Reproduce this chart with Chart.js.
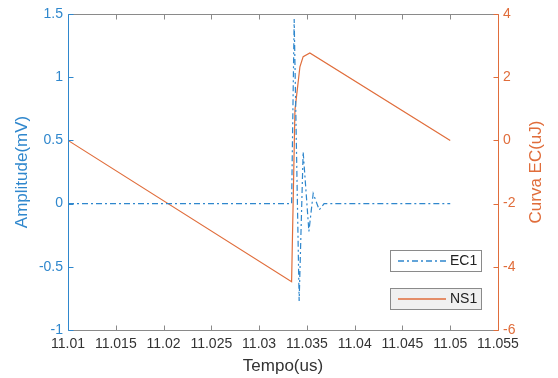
<!DOCTYPE html>
<html>
<head>
<meta charset="utf-8">
<script src="https://cdn.jsdelivr.net/npm/chart.js@4.4.1/dist/chart.umd.min.js"></script>
<style>
  html, body { margin: 0; padding: 0; background: #fff; }
  #wrap { width: 558px; height: 378px; }
</style>
</head>
<body>
<div id="wrap"><canvas id="chart" width="558" height="378"></canvas></div>
<script>
// EC1 - amplitude (mV)
const ec1Time = [11.01, 11.0334, 11.03367, 11.03419, 11.03461, 11.03521, 11.03566, 11.03629, 11.0368, 11.05]
const ec1Amp = [0, 0, 1.46, -0.77, 0.41, -0.22, 0.08, -0.05, 0, 0]

// NS1 - curva EC (uJ)
const ns1Time = [11.01, 11.0334, 11.03375, 11.03427, 11.03461, 11.03531, 11.05]
const ns1Energy = [0, -4.47, 0.96, 2.33, 2.65, 2.77, 0]

const xTicks = [11.01, 11.015, 11.02, 11.025, 11.03, 11.035, 11.04, 11.045, 11.05, 11.055]
const yLeftTicks = [-1, -0.5, 0, 0.5, 1, 1.5]
const yRightTicks = [-6, -4, -2, 0, 2, 4]

const blue = '#2f87cd'
const orange = '#e06d3b'
const gray = '#8a8a8a'
const txt = '#333333'
const fontName = "'Liberation Sans', Arial, sans-serif"

const pts = (xs, ys) => xs.map((x, i) => ({ x: x, y: ys[i] }))

// frame, inward ticks, titles, legend boxes (matlab look)
const frame = {
  id: 'frame',
  afterDraw(chart) {
    const ctx = chart.ctx
    const a = chart.chartArea
    const sx = chart.scales.x, sl = chart.scales.y, sr = chart.scales.y1
    const L = Math.round(a.left) + 0.5, R = Math.round(a.right) + 0.5
    const T = Math.round(a.top) + 0.5, B = Math.round(a.bottom) + 0.5
    const tl = 5
    ctx.save()
    ctx.lineWidth = 1

    ctx.strokeStyle = gray
    ctx.beginPath()
    ctx.moveTo(L, T); ctx.lineTo(R, T)
    ctx.moveTo(L, B); ctx.lineTo(R, B)
    xTicks.forEach(v => {
      const px = Math.round(sx.getPixelForValue(v)) + 0.5
      ctx.moveTo(px, T); ctx.lineTo(px, T + tl)
      ctx.moveTo(px, B); ctx.lineTo(px, B - tl)
    })
    ctx.stroke()

    ctx.strokeStyle = blue
    ctx.beginPath()
    ctx.moveTo(L, T); ctx.lineTo(L, B)
    yLeftTicks.forEach(v => {
      const py = Math.round(sl.getPixelForValue(v)) + 0.5
      ctx.moveTo(L, py); ctx.lineTo(L + tl, py)
    })
    ctx.stroke()

    ctx.strokeStyle = orange
    ctx.beginPath()
    ctx.moveTo(R, T); ctx.lineTo(R, B)
    yRightTicks.forEach(v => {
      const py = Math.round(sr.getPixelForValue(v)) + 0.5
      ctx.moveTo(R, py); ctx.lineTo(R - tl, py)
    })
    ctx.stroke()

    // axis titles
    const cy = (a.top + a.bottom) / 2
    ctx.font = '17px ' + fontName
    ctx.textAlign = 'center'
    ctx.textBaseline = 'middle'
    ctx.fillStyle = txt
    ctx.fillText('Tempo(us)', (a.left + a.right) / 2, 366)

    ctx.save()
    ctx.translate(22, cy)
    ctx.rotate(-Math.PI / 2)
    ctx.fillStyle = blue
    ctx.fillText('Amplitude(mV)', 0, 0)
    ctx.restore()

    ctx.save()
    ctx.translate(536, cy)
    ctx.rotate(-Math.PI / 2)
    ctx.fillStyle = orange
    ctx.fillText('Curva EC(uJ)', 0, 0)
    ctx.restore()

    // legends
    const boxes = [
      { y: 250, label: 'EC1', color: blue, dash: [6, 3, 2, 3], bg: '#ffffff' },
      { y: 288, label: 'NS1', color: orange, dash: [], bg: '#f0f0f0' }
    ]
    boxes.forEach(b => {
      ctx.setLineDash([])
      ctx.lineWidth = 1
      ctx.fillStyle = b.bg
      ctx.fillRect(390.5, b.y + 0.5, 91, 21)
      ctx.strokeStyle = gray
      ctx.strokeRect(390.5, b.y + 0.5, 91, 21)

      ctx.beginPath()
      ctx.strokeStyle = b.color
      ctx.lineWidth = 1.4
      ctx.setLineDash(b.dash)
      ctx.moveTo(398, b.y + 11)
      ctx.lineTo(446, b.y + 11)
      ctx.stroke()
      ctx.setLineDash([])

      ctx.fillStyle = '#222'
      ctx.font = '14px ' + fontName
      ctx.textAlign = 'left'
      ctx.fillText(b.label, 450, b.y + 11.5)
    })
    ctx.restore()
  }
}

new Chart(document.getElementById('chart'), {
  type: 'line',
  data: {
    datasets: [
      {
        label: 'EC1',
        data: pts(ec1Time, ec1Amp),
        yAxisID: 'y',
        borderColor: blue,
        borderWidth: 1.2,
        borderDash: [6, 3, 2, 3],
        pointRadius: 0,
        tension: 0
      },
      {
        label: 'NS1',
        data: pts(ns1Time, ns1Energy),
        yAxisID: 'y1',
        borderColor: orange,
        borderWidth: 1.2,
        pointRadius: 0,
        tension: 0
      }
    ]
  },
  options: {
    responsive: false,
    animation: false,
    layout: { padding: { top: 14, left: 0, right: 0, bottom: 0 } },
    plugins: { legend: { display: false }, tooltip: { enabled: false } },
    scales: {
      x: {
        type: 'linear',
        min: 11.01,
        max: 11.055,
        grid: { display: false, drawTicks: false },
        border: { display: false },
        afterBuildTicks: s => { s.ticks = xTicks.map(v => ({ value: v })) },
        afterFit: s => { s.height = 48 },
        ticks: {
          color: txt,
          padding: 6,
          maxRotation: 0,
          autoSkip: false,
          font: { family: fontName, size: 14 },
          callback: v => String(+v.toFixed(3))
        }
      },
      y: {
        position: 'left',
        min: -1,
        max: 1.5,
        grid: { display: false, drawTicks: false },
        border: { display: false },
        afterBuildTicks: s => { s.ticks = yLeftTicks.map(v => ({ value: v })) },
        afterFit: s => { s.width = 68 },
        ticks: {
          color: blue,
          padding: 5,
          font: { family: fontName, size: 14 },
          callback: v => String(v)
        }
      },
      y1: {
        position: 'right',
        min: -6,
        max: 4,
        grid: { display: false, drawTicks: false },
        border: { display: false },
        afterBuildTicks: s => { s.ticks = yRightTicks.map(v => ({ value: v })) },
        afterFit: s => { s.width = 60 },
        ticks: {
          color: orange,
          padding: 5,
          font: { family: fontName, size: 14 },
          callback: v => String(v)
        }
      }
    }
  },
  plugins: [frame]
})
</script>
</body>
</html>
